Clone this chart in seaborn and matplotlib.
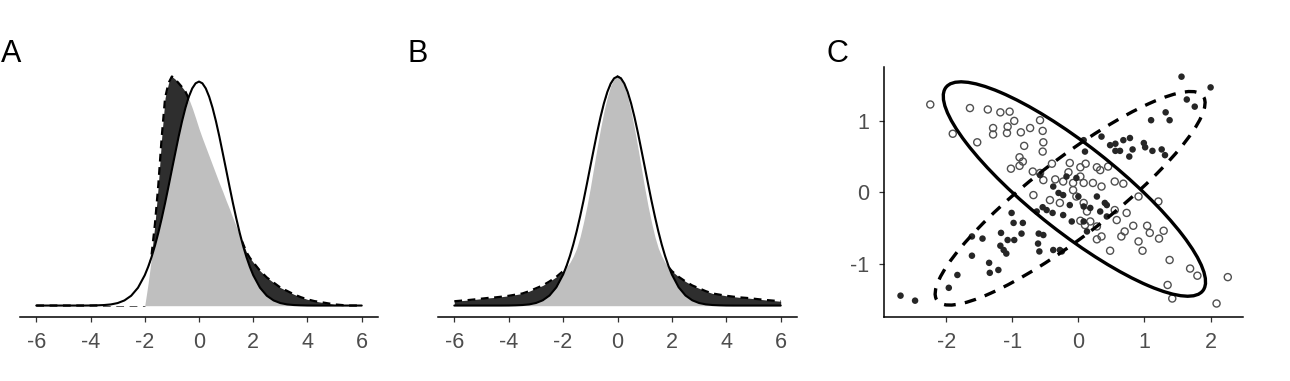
import numpy as np
import matplotlib
matplotlib.use("Agg")
import matplotlib.pyplot as plt
from matplotlib.patches import Ellipse
import seaborn as sns

# ---------------- data ----------------
# sample positions (0.25 apart in the tails, 0.125 apart between -2 and 2)
grid_x = [-6.0, -5.75, -5.5, -5.25, -5.0, -4.75, -4.5, -4.25,
          -4.0, -3.75, -3.5, -3.25, -3.0, -2.75, -2.5, -2.25,
          -2.0, -1.875, -1.75, -1.625, -1.5, -1.375, -1.25, -1.125,
          -1.0, -0.875, -0.75, -0.625, -0.5, -0.375, -0.25, -0.125,
          0.0,
          0.125, 0.25, 0.375, 0.5, 0.625, 0.75, 0.875, 1.0,
          1.125, 1.25, 1.375, 1.5, 1.625, 1.75, 1.875, 2.0,
          2.25, 2.5, 2.75, 3.0, 3.25, 3.5, 3.75, 4.0,
          4.25, 4.5, 4.75, 5.0, 5.25, 5.5, 5.75, 6.0]

normal_density = [0, 0, 0, 0, 0, 0, 0, 0,
                  0.0001, 0.0004, 0.0009, 0.0020, 0.0044, 0.0091, 0.0175, 0.0317,
                  0.0540, 0.0689, 0.0863, 0.1065, 0.1295, 0.1551, 0.1826, 0.2119,
                  0.2420, 0.2717, 0.3011, 0.3282, 0.3521, 0.3719, 0.3867, 0.3958,
                  0.3989,
                  0.3958, 0.3867, 0.3719, 0.3521, 0.3282, 0.3011, 0.2717, 0.2420,
                  0.2119, 0.1826, 0.1551, 0.1295, 0.1065, 0.0863, 0.0689, 0.0540,
                  0.0317, 0.0175, 0.0091, 0.0044, 0.0020, 0.0009, 0.0004, 0.0001,
                  0, 0, 0, 0, 0, 0, 0, 0]

skewed_density = [0, 0, 0, 0, 0, 0, 0, 0,
                  0, 0, 0, 0, 0, 0, 0, 0,
                  0.0, 0.040, 0.090, 0.145, 0.215, 0.300, 0.370, 0.396,
                  0.408, 0.403, 0.396, 0.389, 0.381, 0.368, 0.352, 0.334,
                  0.315,
                  0.298, 0.282, 0.266, 0.250, 0.234, 0.218, 0.203, 0.187,
                  0.172, 0.156, 0.141, 0.125, 0.110, 0.095, 0.085, 0.077,
                  0.062, 0.050, 0.041, 0.032, 0.026, 0.020, 0.015, 0.011,
                  0.008, 0.006, 0.004, 0.002, 0.001, 0, 0, 0]

heavy_density = [0.0075, 0.0085, 0.0095, 0.0107, 0.0120, 0.0133, 0.0142, 0.0155,
                 0.0170, 0.0190, 0.0210, 0.0250, 0.0300, 0.0350, 0.0420, 0.0500,
                 0.0600, 0.0670, 0.0750, 0.0860, 0.1000, 0.1200, 0.1450, 0.1730,
                 0.2050, 0.2400, 0.2750, 0.3080, 0.3380, 0.3630, 0.3830, 0.3950,
                 0.3990,
                 0.3950, 0.3830, 0.3630, 0.3380, 0.3080, 0.2750, 0.2400, 0.2050,
                 0.1730, 0.1450, 0.1200, 0.1000, 0.0860, 0.0750, 0.0670, 0.0600,
                 0.0500, 0.0420, 0.0350, 0.0300, 0.0250, 0.0210, 0.0190, 0.0170,
                 0.0155, 0.0142, 0.0133, 0.0120, 0.0107, 0.0095, 0.0085, 0.0075]

open_x = [-2.24, -1.64, -1.37, -1.18, -1.04, -0.97, -1.29, -1.29, -1.07, -1.08,
          -1.90, -1.53, -0.87, -0.73, -0.54, -0.58, -0.53, -0.54, -0.82, -0.89,
          -0.84, -0.89, -1.02, -0.13, -0.35, -0.69, -0.53, -0.58, 0.03, 0.11,
          0.28, 0.33, 0.03, -0.23, -0.08, 0.08, 0.22, 0.35, 0.55, 0.68,
          0.91, 1.21, -0.68, -0.43, -0.28, -0.08, -0.03, 0.08, 0.13, 0.18,
          0.28, 0.35, 0.48, 0.55, 0.58, 0.73, 0.70, 0.83, 0.91, 0.97,
          1.04, 1.08, 1.22, 1.29, 1.38, 1.69, 1.80, 2.26, 1.35, 1.42,
          2.09, 0.28, 0.65, 0.03, 0.10, -0.15, 0.45, -0.40]
open_y = [1.23, 1.18, 1.16, 1.12, 1.13, 1.00, 0.90, 0.81, 0.92, 0.83,
          0.82, 0.70, 0.84, 0.90, 0.86, 1.01, 0.70, 0.57, 0.65, 0.49,
          0.43, 0.37, 0.33, 0.41, 0.18, 0.29, 0.17, 0.27, 0.35, 0.40,
          0.35, 0.31, 0.22, 0.15, 0.13, 0.13, 0.13, 0.08, 0.15, 0.12,
          -0.06, -0.13, -0.04, -0.11, -0.15, 0.03, -0.06, -0.15, -0.27, -0.41,
          -0.48, -0.62, -0.82, -0.25, -0.39, -0.29, -0.55, -0.47, -0.69, -0.82,
          -0.47, -0.57, -0.65, -0.54, -0.95, -1.07, -1.17, -1.19, -1.30, -1.49,
          -1.56, -0.66, -0.62, -0.40, -0.46, 0.28, 0.36, 0.40]

filled_x = [1.56, 2.00, 1.64, 1.76, 1.32, 1.38, 1.10, 0.35, 0.68, 0.78,
            0.56, 0.56, 0.63, 0.82, 0.77, 0.99, 1.01, 1.12, 1.26, 1.31,
            0.10, 0.08, -2.69, -2.47, -1.96, -1.83, -1.61, -1.35, -1.34, -1.21,
            -1.18, -1.13, -1.09, -1.17, -1.07, -0.97, -1.61, -1.45, -1.01, -0.98,
            -0.84, -0.60, -0.53, -0.61, -0.59, -0.38, -0.28, -0.54, -0.48, -0.39,
            -0.23, -0.30, -0.23, 0.00, -0.13, 0.08, 0.18, -0.10, 0.08, 0.13,
            -0.25, 0.43, 0.43, 0.33, -0.58, -0.38, -0.18, -0.03, 0.28, 0.40,
            -0.63, -0.86, 0.48]
filled_y = [1.62, 1.47, 1.30, 1.20, 1.12, 1.01, 1.01, 0.78, 0.73, 0.76,
            0.68, 0.58, 0.58, 0.60, 0.50, 0.69, 0.63, 0.58, 0.60, 0.52,
            0.57, 0.73, -1.45, -1.52, -1.34, -1.16, -0.89, -0.99, -1.13, -1.09,
            -0.75, -0.81, -0.86, -0.57, -0.67, -0.67, -0.62, -0.65, -0.29, -0.43,
            -0.43, -0.58, -0.60, -0.72, -0.83, -0.81, -0.81, -0.21, -0.25, -0.29,
            -0.32, -0.01, -0.04, -0.06, -0.18, -0.20, -0.22, -0.41, -0.41, -0.55,
            -0.83, -0.18, -0.34, -0.27, 0.24, 0.08, 0.22, 0.20, -0.06, -0.15,
            -0.27, -0.58, 0.66]

# data ellipses: (center x, center y, full width, full height, angle in degrees)
open_ellipse = (-0.06, 0.045, 4.82, 1.24, -36.0)
filled_ellipse = (-0.125, -0.085, 4.94, 1.11, 35.3)

density_ticks = [-6, -4, -2, 0, 2, 4, 6]
scatter_xticks = [-2, -1, 0, 1, 2]
scatter_yticks = [-1, 0, 1]
panel_labels = ["A", "B", "C"]

# ---------------- style ----------------
sns.set_theme(style="ticks")
plt.rcParams["font.family"] = ["Liberation Sans", "DejaVu Sans"]

W, H = 1290, 381
fig = plt.figure(figsize=(W / 100, H / 100), dpi=100)

DARK = "#2e2e2e"
LIGHT = "#bfbfbf"
TICK_COL = "#4d4d4d"


def style_axis(ax):
    for s in ax.spines.values():
        s.set_linewidth(1.1)
        s.set_color("black")
    ax.tick_params(axis="both", length=3.8, width=0.9, color="#333333",
                   labelsize=15.5, labelcolor=TICK_COL, pad=7)


def density_panel(ax, alt):
    x = np.asarray(grid_x, float)
    alt = np.asarray(alt, float)
    nrm = np.asarray(normal_density, float)
    overlap = np.minimum(alt, nrm)
    ax.fill_between(x, 0, alt, color=DARK, lw=0, zorder=1)
    sns.lineplot(x=x, y=alt, ax=ax, color="black", lw=1.6, zorder=2)
    ax.lines[-1].set_linestyle((0, (3.5, 2.5)))
    ax.fill_between(x, 0, nrm, color="white", lw=0, zorder=3)
    ax.fill_between(x, 0, overlap, color=LIGHT, lw=0, zorder=4)
    sns.lineplot(x=x, y=nrm, ax=ax, color="black", lw=1.5, zorder=5)
    top = max(alt.max(), nrm.max())
    ax.set_xlim(-6.6, 6.6)
    ax.set_ylim(-0.05 * top, 1.05 * top)
    ax.set_xticks(density_ticks)
    ax.set_xticklabels([str(t) for t in density_ticks])
    ax.set_yticks([])
    for s in ["left", "right", "top"]:
        ax.spines[s].set_visible(False)
    style_axis(ax)
    ax.set_xlabel("")
    ax.set_ylabel("")


bottom = (H - 317) / H
height = 252 / H
axA = fig.add_axes([20 / W, bottom, 358 / W, height])
axB = fig.add_axes([438 / W, bottom, 359 / W, height])
axC = fig.add_axes([884 / W, (H - 316.7) / H, 359 / W, 250 / H])

density_panel(axA, skewed_density)
density_panel(axB, heavy_density)

# ---------------- panel C ----------------
sns.scatterplot(x=open_x, y=open_y, ax=axC, marker="o", s=26,
                facecolor="none", edgecolor="#505050", linewidth=1.0, zorder=3)
sns.scatterplot(x=filled_x, y=filled_y, ax=axC, marker="o", s=22,
                color="#262626", edgecolor="none", linewidth=0, zorder=3)
for coll in axC.collections[:1]:
    coll.set_facecolor("none")
    coll.set_edgecolor("#505050")

cx, cy, w, h, a = open_ellipse
axC.add_patch(Ellipse((cx, cy), w, h, angle=a, fill=False, lw=2.4,
                      color="black", zorder=4))
cx, cy, w, h, a = filled_ellipse
axC.add_patch(Ellipse((cx, cy), w, h, angle=a, fill=False, lw=2.4,
                      color="black", ls=(0, (3.5, 2.8)), zorder=4))

axC.set_xlim(-2.94, 2.49)
axC.set_ylim(-1.745, 1.76)
axC.set_xticks(scatter_xticks)
axC.set_xticklabels([str(t) for t in scatter_xticks])
axC.set_yticks(scatter_yticks)
axC.set_yticklabels([str(t) for t in scatter_yticks])
for s in ["right", "top"]:
    axC.spines[s].set_visible(False)
style_axis(axC)
axC.set_xlabel("")
axC.set_ylabel("")

# panel letters
for lab, px in zip(panel_labels, [1, 408, 827]):
    fig.text(px / W, (H - 62) / H, lab, fontsize=22, color="black",
             ha="left", va="baseline")

fig.savefig("out.png", dpi=100)
